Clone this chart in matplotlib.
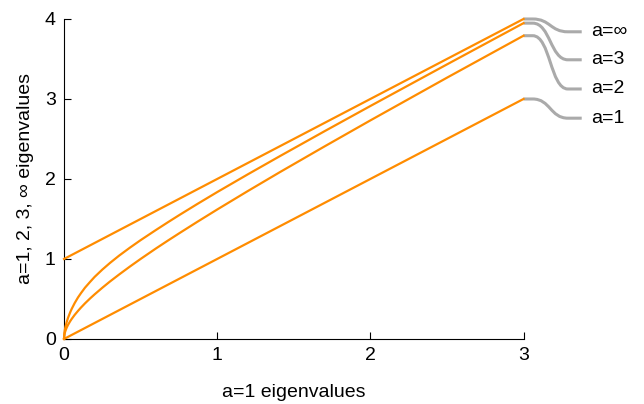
import matplotlib
matplotlib.use("Agg")
import matplotlib.pyplot as plt
from matplotlib.path import Path
from matplotlib.patches import PathPatch

plt.rcParams['font.family'] = ['Liberation Sans', 'DejaVu Sans']

# values
x_line = [0, 3]
a1 = [0, 3]
a_inf = [1, 4]

x_curve = [0, 0.001, 0.003, 0.006, 0.01, 0.018, 0.026, 0.04, 0.05, 0.07,
           0.091, 0.11, 0.137, 0.17, 0.2, 0.25, 0.3, 0.36, 0.43, 0.5, 0.6,
           0.68, 0.757, 0.87, 1.0, 1.2, 1.409, 1.7, 2.0, 2.5, 3.0]
a2 = [0, 0.032, 0.056, 0.081, 0.105, 0.144, 0.175, 0.221, 0.25, 0.302,
      0.35, 0.391, 0.445, 0.506, 0.558, 0.640, 0.718, 0.806, 0.905, 1.0, 1.131,
      1.232, 1.327, 1.464, 1.618, 1.849, 2.085, 2.406, 2.732, 3.266, 3.791]
a3 = [0, 0.048, 0.085, 0.121, 0.158, 0.215, 0.263, 0.332, 0.375, 0.450,
      0.518, 0.571, 0.641, 0.713, 0.776, 0.867, 0.950, 1.042, 1.141, 1.235, 1.362,
      1.461, 1.554, 1.687, 1.836, 2.058, 2.285, 2.596, 2.912, 3.432, 3.948]

series = [(x_line, a1), (x_curve, a2), (x_curve, a3), (x_line, a_inf)]
labels = ["a=1", "a=2", "a=3", "a=\u221e"]
label_y = [2.76, 3.125, 3.49, 3.84]

ORANGE = "#ff8c00"
GRAY = "#aaaaaa"

fig = plt.figure(figsize=(6.44, 4.04), dpi=100)
ax = fig.add_axes([0.0994, 0.161, 0.7135, 0.792])

for xs, ys in series:
    ax.plot(xs, ys, color=ORANGE, lw=1.6, clip_on=False, zorder=3)

# label connectors
for (xs, ys), lab, ly in zip(series, labels, label_y):
    y0 = ys[-1]
    verts = [(3.0, y0), (3.06, y0),
             (3.175, y0), (3.175, ly), (3.29, ly),
             (3.38, ly)]
    codes = [Path.MOVETO, Path.LINETO,
             Path.CURVE4, Path.CURVE4, Path.CURVE4,
             Path.LINETO]
    patch = PathPatch(Path(verts, codes), facecolor="none", edgecolor=GRAY,
                      lw=2.2, clip_on=False, capstyle="butt")
    ax.add_patch(patch)
    ax.text(3.44, ly, lab, fontsize=14, va="center", ha="left")

ax.set_xlim(0, 3)
ax.set_ylim(0, 4)
ax.set_xticks([0, 1, 2, 3])
ax.set_yticks([0, 1, 2, 3, 4])
ax.spines['top'].set_visible(False)
ax.spines['right'].set_visible(False)
ax.tick_params(direction="in", length=5, labelsize=14, pad=6)
ax.set_xlabel("a=1 eigenvalues", fontsize=14, labelpad=14)
ax.set_ylabel("a=1, 2, 3, \u221e eigenvalues", fontsize=14, labelpad=8)

fig.savefig("out.png", dpi=100)
